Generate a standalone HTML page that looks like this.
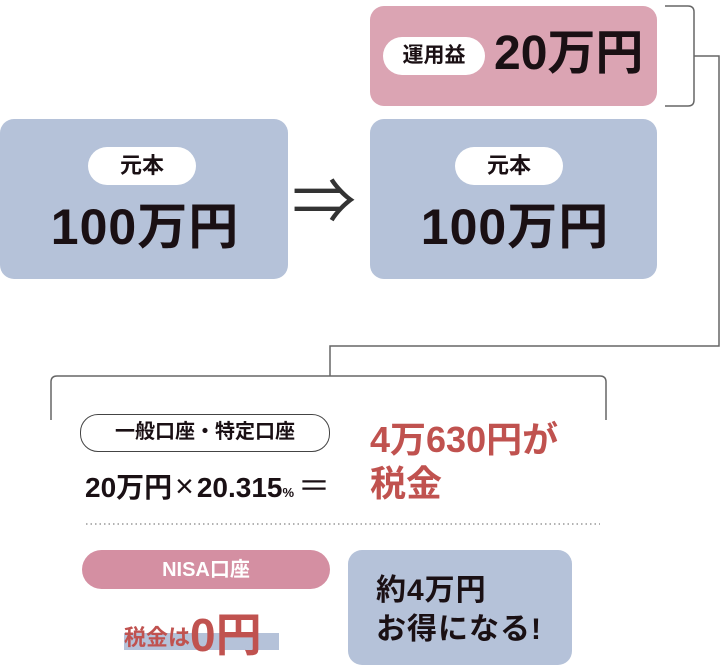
<!DOCTYPE html>
<html><head><meta charset="utf-8"><style>
body{margin:0;width:720px;height:671px;position:relative;background:#fff;overflow:hidden;font-family:"Liberation Sans","Noto Sans CJK JP",sans-serif;font-weight:700;color:#1a1014}
.a{position:absolute}
.box{position:absolute;border-radius:14px}
.pill{position:absolute;background:#fff;border-radius:20px;text-align:center}
.t{position:absolute;white-space:nowrap;line-height:1}
</style></head><body>
<div class="box" style="left:0;top:119px;width:288px;height:160px;background:#b5c2d9"></div>
<div class="pill" style="left:88px;top:147px;width:108px;height:38px;line-height:38px;font-size:22px">元本</div>
<div class="t" style="left:40px;top:202px;font-size:50px;width:210px;text-align:center;letter-spacing:1px">100万円</div>

<div class="t" style="left:292px;top:170px;font-size:64px;font-weight:400;color:#333">⇒</div>

<div class="box" style="left:370px;top:6px;width:287px;height:100px;background:#dba4b3"></div>
<div class="pill" style="left:383px;top:37px;width:102px;height:38px;line-height:38px;font-size:21px">運用益</div>
<div class="t" style="left:494px;top:30px;font-size:48px">20万円</div>

<div class="box" style="left:370px;top:119px;width:287px;height:160px;background:#b5c2d9"></div>
<div class="pill" style="left:455px;top:147px;width:108px;height:38px;line-height:38px;font-size:22px">元本</div>
<div class="t" style="left:410px;top:202px;font-size:50px;width:210px;text-align:center;letter-spacing:1px">100万円</div>

<svg class="a" style="left:0;top:0" width="720" height="671">
<g fill="none" stroke="#666" stroke-width="1.5">
<path d="M665 6H688Q694 6 694 12V100Q694 106 688 106H665"/>
<path d="M694 56H719V346H330V376"/>
<path d="M51 420V382Q51 376 57 376H600Q606 376 606 382V420"/>
</g>
<line x1="86" y1="524" x2="600" y2="524" stroke="#999" stroke-width="1.5" stroke-dasharray="1.5 3"/>
</svg>

<div class="a" style="left:80px;top:414px;width:248px;height:36px;border:1.5px solid #444;border-radius:18px;background:#fff"></div>
<div class="t" style="left:85px;top:422px;font-size:20px;width:240px;text-align:center">一般口座・特定口座</div>
<div class="t" style="left:370px;top:422px;font-size:36px;color:#c0524f">4万630円が</div>
<div class="t" style="left:85px;top:470px;font-size:28px">20万円<span style="font-weight:400;font-size:32px;margin:0 3px">×</span>20.315<span style="font-size:13px">%</span><span style="font-weight:400;font-size:32px;margin-left:4px">＝</span></div>
<div class="t" style="left:370px;top:466px;font-size:36px;color:#c0524f">税金</div>

<div class="a" style="left:82px;top:550px;width:248px;height:39px;border-radius:20px;background:#d48fa2"></div>
<div class="t" style="left:82px;top:560px;width:248px;text-align:center;font-size:20px;color:#fff">NISA口座</div>
<div class="a" style="left:124px;top:633px;width:155px;height:17px;background:#b5c2d9"></div>
<div class="t" style="left:124px;top:612px;font-size:22px;color:#c0524f">税金は<span style="font-size:46px;vertical-align:-6px">0円</span></div>

<div class="box" style="left:348px;top:550px;width:224px;height:115px;background:#b5c2d9"></div>
<div class="t" style="left:376px;top:571px;font-size:30px;line-height:1.3;letter-spacing:1px">約4万円<br>お得になる!</div>
</body></html>
